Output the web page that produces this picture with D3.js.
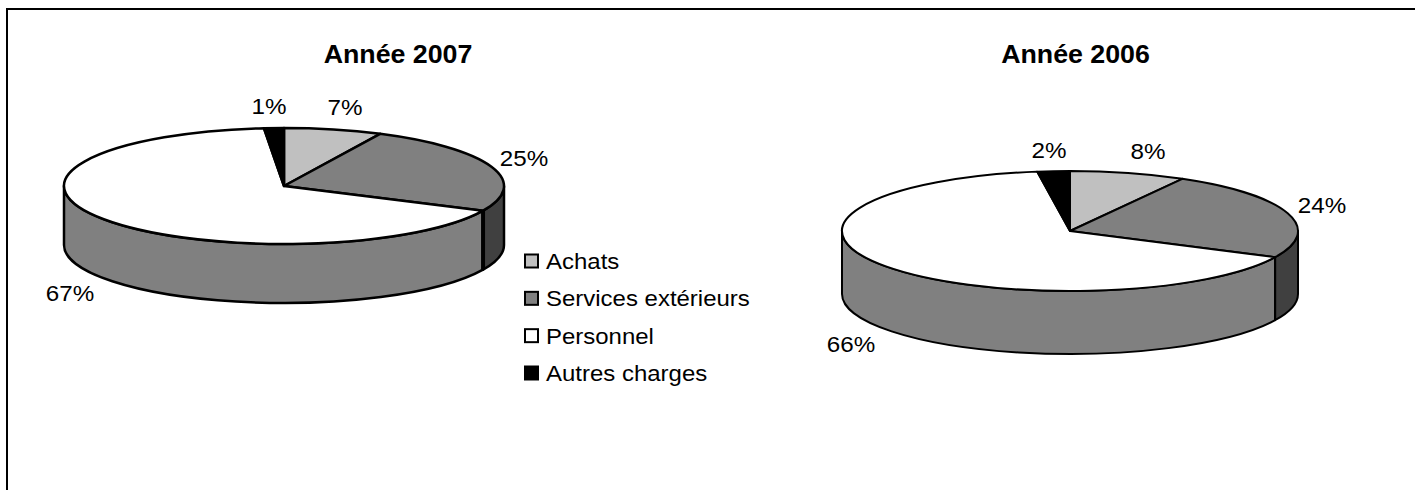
<!DOCTYPE html>
<html>
<head>
<meta charset="utf-8">
<script src="https://cdn.jsdelivr.net/npm/d3@7"></script>
<style>
  html, body { margin: 0; padding: 0; background: #fff; }
  svg { display: block; }
  text { font-family: "Liberation Sans", Arial, sans-serif; fill: #000; }
</style>
</head>
<body>
<div id="chart"></div>
<script>
// the data
var categories = ["Achats", "Services extérieurs", "Personnel", "Autres charges"];
var values2007 = [7.2, 24.8, 66.55, 1.45];
var values2006 = [8.2, 24, 65.5, 2.3];
var colors = ["#c0c0c0", "#808080", "#ffffff", "#000000"];
// wall colour of each slice, excel darkens them
var wallColors = ["#808080", "#404040", "#808080", "#000000"];

var width = 1415, height = 490;

var svg = d3.select("#chart")
  .append("svg")
  .attr("width", width)
  .attr("height", height);

// frame, only top and left are in the photo
svg.append("path")
  .attr("d", d3.line()([[7, 490], [7, 9], [1415, 9]]))
  .attr("fill", "none")
  .attr("stroke", "#000")
  .attr("stroke-width", 2);

var pie = d3.pie().sort(null).value(function(d) { return d; });

// point on the tilted ellipse, angle 0 is 12 o'clock
function pt(o, a) {
  return [o.cx + o.rx * Math.sin(a), o.cy - o.ry * Math.cos(a)];
}

// the original text is a bit wider than Liberation at the same height
function place(x, y, stretch) {
  return "translate(" + x + "," + y + ") scale(" + stretch + ",1)";
}

function drawPie(o) {
  var g = svg.append("g");
  var slices = pie(o.values);

  // side walls: only the part on the front of the disc is seen
  slices.forEach(function(s, i) {
    var a0 = Math.max(s.startAngle, Math.PI / 2);
    var a1 = Math.min(s.endAngle, 3 * Math.PI / 2);
    if (a0 >= a1) return;
    var p0 = pt(o, a0), p1 = pt(o, a1);
    var d = "M" + p0 + "A" + o.rx + "," + o.ry + " 0 0 1 " + p1 +
      "L" + [p1[0], p1[1] + o.depth] +
      "A" + o.rx + "," + o.ry + " 0 0 0 " + [p0[0], p0[1] + o.depth] + "Z";
    g.append("path")
      .attr("d", d)
      .attr("fill", wallColors[i])
      .attr("stroke", "#000")
      .attr("stroke-width", o.sw)
      .attr("stroke-linejoin", "round");
  });

  // edge between the two visible walls
  var edge = pt(o, slices[1].endAngle);
  g.append("path")
    .attr("d", d3.line()([edge, [edge[0], edge[1] + o.depth]]))
    .attr("stroke", "#000")
    .attr("stroke-width", o.edge);

  // top of the disc, d3.arc squashed into an ellipse
  var arc = d3.arc().innerRadius(0).outerRadius(o.rx);
  g.append("g")
    .attr("transform", "translate(" + o.cx + "," + o.cy + ") scale(1," + (o.ry / o.rx) + ")")
    .selectAll("path")
    .data(slices)
    .enter().append("path")
    .attr("d", arc)
    .attr("fill", function(d, i) { return colors[i]; })
    .attr("stroke", "#000")
    .attr("stroke-width", o.sw)
    .attr("stroke-linejoin", "round")
    .attr("vector-effect", "non-scaling-stroke");

  // percent labels
  g.selectAll("text.label")
    .data(slices)
    .enter().append("text")
    .attr("class", "label")
    .attr("transform", function(d, i) { return place(o.labels[i][0], o.labels[i][1], 1.1); })
    .attr("text-anchor", "middle")
    .style("font-size", "22px")
    .text(function(d) { return Math.round(d.data) + "%"; });

  // title
  g.append("text")
    .attr("transform", place(o.titleX, 63, 1.03))
    .attr("text-anchor", "middle")
    .style("font-size", "26px")
    .style("font-weight", "bold")
    .text(o.title);
}

drawPie({
  title: "Année 2007", titleX: 398, values: values2007,
  cx: 284, cy: 186, rx: 220, ry: 58, depth: 59, sw: 2.5, edge: 4,
  labels: [[345, 115], [524, 166], [70, 301], [269, 114]]
});

drawPie({
  title: "Année 2006", titleX: 1075.5, values: values2006,
  cx: 1070, cy: 231, rx: 228, ry: 60, depth: 63, sw: 2, edge: 2,
  labels: [[1148, 159], [1322, 213], [851, 352], [1049, 158]]
});

// legend
var legend = svg.append("g");
var legendY = d3.scalePoint().domain(categories).range([261, 373]);

legend.selectAll("rect")
  .data(categories)
  .enter().append("rect")
  .attr("x", 525)
  .attr("y", function(d) { return legendY(d) - 6.5; })
  .attr("width", 13)
  .attr("height", 13)
  .attr("fill", function(d, i) { return colors[i]; })
  .attr("stroke", "#000")
  .attr("stroke-width", 2);

legend.selectAll("text")
  .data(categories)
  .enter().append("text")
  .attr("transform", function(d) { return place(546, legendY(d) + 8, 1.09); })
  .style("font-size", "22px")
  .text(function(d) { return d; });
</script>
</body>
</html>
